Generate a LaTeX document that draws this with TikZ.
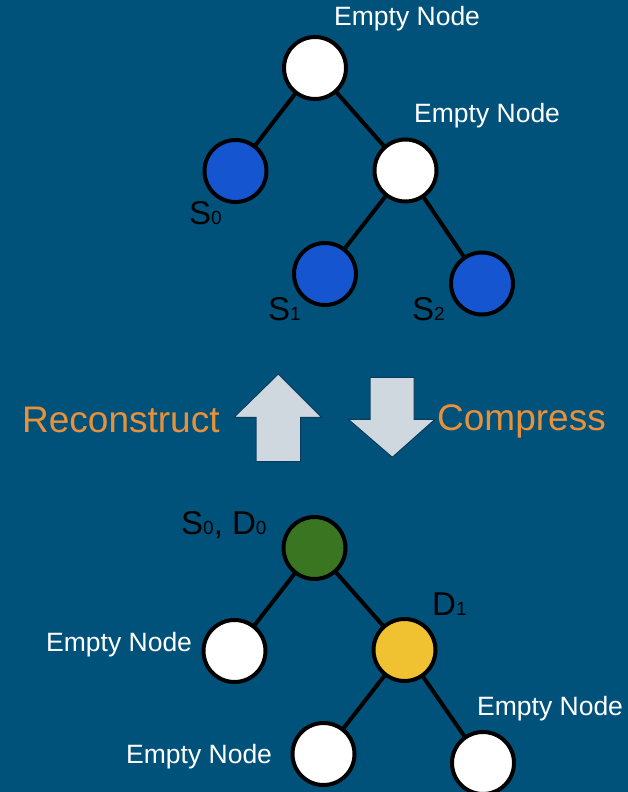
\documentclass[tikz,border=0pt]{standalone}
\usepackage{fontspec}
\setmainfont{Liberation Sans}
\definecolor{bg}{RGB}{0,82,123}
\definecolor{nblue}{RGB}{22,85,208}
\definecolor{ngreen}{RGB}{58,117,33}
\definecolor{nyellow}{RGB}{240,194,50}
\definecolor{lorange}{RGB}{232,145,58}
\definecolor{arrfill}{RGB}{208,216,223}
\definecolor{arredge}{RGB}{10,60,95}
\newcommand\subd[1]{{\fontsize{19}{19}\selectfont #1}}
\begin{document}
\begin{tikzpicture}[x=1pt,y=-1pt,
  tnode/.style={circle,draw=black,line width=4pt,minimum size=62pt,inner sep=0pt},
  edge/.style={draw=black,line width=4pt},
  emptylab/.style={anchor=base west,inner sep=0pt,text=white,font=\fontsize{26.5}{30}\selectfont},
  slab/.style={anchor=base west,inner sep=0pt,text=black,font=\fontsize{33}{36}\selectfont},
  oplab/.style={anchor=base west,inner sep=0pt,text=lorange,font=\fontsize{37}{40}\selectfont},
  blockarrow/.style={fill=arrfill,draw=arredge,line width=1pt,line join=miter}]
\useasboundingbox (0,0) rectangle (628,792);
\fill[bg] (0,0) rectangle (628,792);
\clip (0,0) rectangle (628,792);

% top tree
\node[tnode,fill=white] (r) at (315,68) {};
\node[tnode,fill=nblue] (s0) at (235.5,171) {};
\node[tnode,fill=white] (e1) at (405.5,170.5) {};
\node[tnode,fill=nblue] (s1) at (325,274) {};
\node[tnode,fill=nblue] (s2) at (482,283.5) {};
\draw[edge] (r) -- (s0);
\draw[edge] (r) -- (e1);
\draw[edge] (e1) -- (s1);
\draw[edge] (e1) -- (s2);

\node[emptylab] (lr) at (334,26) {Empty Node};
\node[emptylab] (le1) at (414,122) {Empty Node};
\node[slab] (ls0) at (189,224) {S\subd{0}};
\node[slab] (ls1) at (268,320) {S\subd{1}};
\node[slab] (ls2) at (412,320) {S\subd{2}};

% arrows and labels
\draw[blockarrow] (278.3,374) -- (321.7,417.3) -- (300.7,417.3) -- (300.7,461.7)
  -- (256,461.7) -- (256,417.3) -- (234,417.3) -- cycle;
\draw[blockarrow] (370,377.3) -- (414,377.3) -- (414,419.3) -- (435,419.3)
  -- (392.3,457.3) -- (348.3,419.3) -- (370,419.3) -- cycle;
\node[oplab] (rec) at (22,432.7) {Reconstruct};
\node[oplab] (com) at (437,430.5) {Compress};

% bottom tree
\node[tnode,fill=ngreen] (g) at (314.5,548) {};
\node[tnode,fill=white] (le) at (234.5,651) {};
\node[tnode,fill=nyellow] (d1) at (404.5,650) {};
\node[tnode,fill=white] (bl) at (323.5,754) {};
\node[tnode,fill=white] (br) at (483,763) {};
\draw[edge] (g) -- (le);
\draw[edge] (g) -- (d1);
\draw[edge] (d1) -- (bl);
\draw[edge] (d1) -- (br);

\node[slab] (lg) at (181,534.3) {S\subd{0}, D\subd{0}};
\node[slab] (ld1) at (432,615) {D\subd{1}};
\node[emptylab] (lle) at (46,651) {Empty Node};
\node[emptylab] (lbr) at (477,715) {Empty Node};
\node[emptylab] (lbl) at (126,763) {Empty Node};
\end{tikzpicture}
\end{document}
